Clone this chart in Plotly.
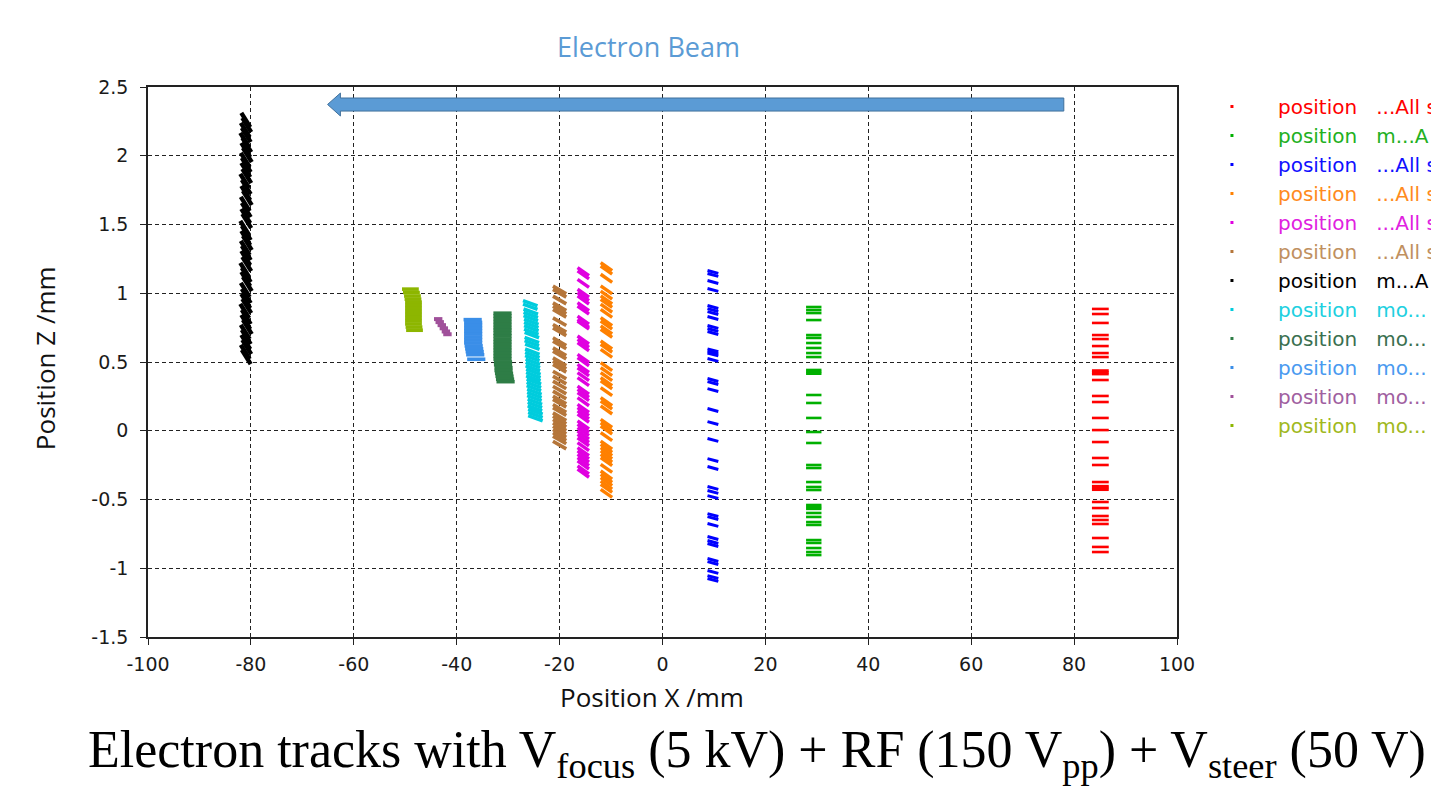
import plotly.graph_objects as go

# ---------------- data ----------------
legend_names = [
    "position   ...All s", "position   m...A", "position   ...All s",
    "position   ...All s", "position   ...All s", "position   ...All s",
    "position   m...A", "position   mo...", "position   mo...",
    "position   mo...", "position   mo...", "position   mo...",
]
colors = ["#FF0000", "#00B000", "#0000FF", "#FF8000", "#E000E0", "#B5763A",
          "#000000", "#00CCDD", "#2E7D46", "#3A8EE8", "#A0509A", "#8DB600"]
legend_text_colors = ["#FF0000", "#22B022", "#1010FF", "#FF8A20", "#E020E0", "#C09060",
                      "#000000", "#20D0E0", "#3A7050", "#4A9AF0", "#A060A0", "#A0B820"]

# red track
x_red = [85.1]
z_red = [0.886, 0.849, 0.784, 0.696, 0.667, 0.616, 0.565, 0.536, 0.438, 0.425, 0.412,
         0.369, 0.253, 0.209, 0.093, 0.005, -0.082, -0.198, -0.249, -0.373, -0.403,
         -0.416, -0.429, -0.518, -0.562, -0.620, -0.649, -0.678, -0.780, -0.845, -0.882]
# green track
x_green = [29.4]
z_green = [0.900, 0.878, 0.856, 0.805, 0.696, 0.675, 0.638, 0.602, 0.565, 0.536, 0.442,
           0.428, 0.415, 0.260, 0.202, 0.093, -0.009, -0.089, -0.249, -0.271, -0.373,
           -0.409, -0.431, -0.540, -0.555, -0.568, -0.598, -0.627, -0.664, -0.685,
           -0.795, -0.816, -0.853, -0.882, -0.904]
# blue track
x_blue = [9.8]
z_blue = [1.155, 1.133, 1.082, 1.024, 0.900, 0.878, 0.856, 0.820, 0.755, 0.733, 0.711,
          0.585, 0.570, 0.555, 0.515, 0.369, 0.347, 0.296, 0.151, 0.056, -0.067, -0.213,
          -0.271, -0.416, -0.445, -0.482, -0.613, -0.635, -0.685, -0.780, -0.809,
          -0.831, -0.940, -0.962, -1.027, -1.064, -1.085]
# orange track
x_orange = [-10.9]
z_orange = [1.193, 1.169, 1.109, 1.024, 0.987, 0.951, 0.927, 0.891, 0.854, 0.793, 0.769,
            0.733, 0.709, 0.624, 0.600, 0.563, 0.466, 0.430, 0.393, 0.357, 0.333, 0.284,
            0.211, 0.187, 0.151, 0.054, 0.029, 0.005, -0.043, -0.104, -0.128, -0.152,
            -0.176, -0.200, -0.225, -0.273, -0.322, -0.346, -0.370, -0.395, -0.419,
            -0.455]
# magenta track
x_magenta = [-15.4]
z_magenta = [1.157, 1.133, 1.072, 1.000, 0.975, 0.951, 0.902, 0.878, 0.805, 0.781, 0.769,
             0.660, 0.636, 0.611, 0.527, 0.502, 0.454, 0.429, 0.393, 0.357, 0.296, 0.272,
             0.248, 0.211, 0.163, 0.139, 0.115, 0.091, 0.042, 0.018, -0.007, -0.031,
             -0.055, -0.080, -0.116, -0.152, -0.176, -0.200, -0.225, -0.249, -0.285,
             -0.309]
# brown track
x_brown = [-20.0]
z_brown = [1.024, 1.000, 0.951, 0.902, 0.878, 0.854, 0.793, 0.745, 0.720, 0.648, 0.624,
           0.575, 0.551, 0.502, 0.478, 0.454, 0.405, 0.369, 0.333, 0.296, 0.260, 0.224,
           0.200, 0.163, 0.139, 0.102, 0.078, 0.054, 0.029, 0.005, -0.019, -0.043,
           -0.067, -0.104]
# black track
x_black = [-81.0, -80.8, -81.1, -80.9, -81.2, -80.8, -81.0, -80.7, -81.1, -80.9, -81.0,
           -80.8, -81.2, -80.9, -81.0, -80.7, -81.1, -80.9, -81.0, -80.8, -81.2, -80.9,
           -81.0, -80.7, -81.1, -80.9, -81.0, -80.8, -81.2, -80.9, -81.0, -80.7, -81.1,
           -80.9, -81.0, -80.8, -81.2, -80.9, -81.0, -80.7, -81.1, -80.9, -81.0, -80.8,
           -81.1, -80.9]
z_black = [2.260, 2.224, 2.187, 2.151, 2.115, 2.078, 2.042, 2.005, 1.969, 1.933, 1.896,
           1.853, 1.816, 1.773, 1.729, 1.693, 1.649, 1.605, 1.562, 1.525, 1.475, 1.438,
           1.402, 1.365, 1.329, 1.293, 1.256, 1.213, 1.169, 1.133, 1.104, 1.067, 1.024,
           0.980, 0.944, 0.907, 0.871, 0.827, 0.791, 0.755, 0.718, 0.682, 0.645, 0.609,
           0.573, 0.536]
# cyan track
x_cyan = [-25.7, -25.7, -25.6, -25.6, -25.6, -25.5, -25.5, -25.5, -25.5, -25.4, -25.4,
          -25.4, -25.3, -25.3, -25.3, -25.3, -25.2, -25.2, -25.2, -25.1, -25.1, -25.1,
          -25.0, -25.0, -25.0, -24.9, -24.9, -24.9, -24.8, -24.8, -24.8, -24.7, -24.7,
          -24.7]
z_cyan = [0.927, 0.902, 0.866, 0.842, 0.818, 0.793, 0.769, 0.745, 0.720, 0.696, 0.660,
          0.636, 0.611, 0.575, 0.551, 0.527, 0.502, 0.478, 0.454, 0.429, 0.405, 0.381,
          0.357, 0.333, 0.309, 0.284, 0.260, 0.236, 0.211, 0.187, 0.163, 0.139, 0.115,
          0.091]
# dark green track
x_dgreen = [-31.1, -31.1, -31.1, -31.1, -31.1, -31.1, -31.1, -31.1, -31.1, -31.1, -31.1,
            -31.1, -31.1, -31.1, -31.1, -31.1, -31.1, -31.0, -31.0, -30.9, -30.9, -30.8,
            -30.7, -30.6, -30.5]
z_dgreen = [0.855, 0.835, 0.815, 0.793, 0.772, 0.750, 0.731, 0.709, 0.690, 0.668, 0.647,
            0.627, 0.605, 0.585, 0.563, 0.542, 0.521, 0.500, 0.480, 0.459, 0.438, 0.417,
            0.396, 0.375, 0.357]
# light blue track
x_lblue = [-36.9, -36.8, -36.8, -36.8, -36.8, -36.8, -36.8, -36.8, -36.8, -36.7, -36.6,
           -36.5, -36.4, -36.2]
z_lblue = [0.808, 0.788, 0.766, 0.745, 0.724, 0.703, 0.681, 0.660, 0.639, 0.617, 0.596,
           0.575, 0.553, 0.520]
# purple track
x_purple = [-43.6, -43.3, -42.9, -42.5, -42.1, -41.8]
z_purple = [0.812, 0.790, 0.768, 0.745, 0.722, 0.702]
# olive track
x_olive = [-49.0, -48.8, -48.6, -48.5, -48.4, -48.4, -48.4, -48.4, -48.4, -48.4, -48.4,
           -48.4, -48.3, -48.2]
z_olive = [1.030, 1.005, 0.980, 0.957, 0.935, 0.912, 0.890, 0.867, 0.845, 0.822, 0.800,
           0.777, 0.754, 0.731]

# axis ticks
x_tickvals = [-100, -80, -60, -40, -20, 0, 20, 40, 60, 80, 100]
x_ticktext = ["-100", "-80", "-60", "-40", "-20", "0", "20", "40", "60", "80", "100"]
y_tickvals = [-1.5, -1, -0.5, 0, 0.5, 1, 1.5, 2, 2.5]
y_ticktext = ["-1.5", "-1", "-0.5", "0", "0.5", "1", "1.5", "2", "2.5"]

# beam arrow (annotation geometry, data units)
ARROW_TAIL_X, ARROW_HEAD_X, ARROW_TIP_X = 78.0, -62.6, -65.1
ARROW_SHAFT_TOP, ARROW_SHAFT_BOT = 2.42, 2.325
ARROW_HEAD_TOP, ARROW_HEAD_BOT, ARROW_TIP_Y = 2.456, 2.289, 2.373

# ---------------- figure ----------------
series = [
    (x_red, z_red, dict(angle=0, size=12, width=2.6)),
    (x_green, z_green, dict(angle=0, size=11, width=2.6)),
    (x_blue, z_blue, dict(angle=15, size=8, width=3.0)),
    (x_orange, z_orange, dict(angle=35, size=10, width=3.4)),
    (x_magenta, z_magenta, dict(angle=35, size=10, width=3.4)),
    (x_brown, z_brown, dict(angle=30, size=11, width=3.6)),
    (x_black, z_black, dict(angle=58, size=12, width=4.4)),
    (x_cyan, z_cyan, dict(angle=20, size=11, width=3.6)),
    (x_dgreen, z_dgreen, dict(angle=0, size=13, width=3.6)),
    (x_lblue, z_lblue, dict(angle=0, size=13, width=3.6)),
    (x_purple, z_purple, dict(angle=0, size=6, width=4)),
    (x_olive, z_olive, dict(angle=0, size=12, width=3.6)),
]

fig = go.Figure()
for i, (xs, zs, st) in enumerate(series):
    xx = xs if len(xs) == len(zs) else xs * len(zs)
    fig.add_trace(go.Scatter(
        x=xx, y=zs, mode="markers", showlegend=False, legendgroup=str(i),
        hoverinfo="x+y",
        marker=dict(symbol="line-ew", size=st["size"], angle=st["angle"],
                    color=colors[i], line=dict(color=colors[i], width=st["width"])),
    ))
for i, name in enumerate(legend_names):
    fig.add_trace(go.Scatter(
        x=[None], y=[None], mode="markers", legendgroup=str(i),
        name=f'<span style="color:{legend_text_colors[i]}">{name}</span>',
        marker=dict(symbol="square", size=3, color=colors[i], line=dict(width=0)),
    ))

fig.add_shape(
    type="path", xref="x", yref="y", layer="above",
    path=(f"M {ARROW_TAIL_X},{ARROW_SHAFT_TOP} L {ARROW_HEAD_X},{ARROW_SHAFT_TOP} "
          f"L {ARROW_HEAD_X},{ARROW_HEAD_TOP} L {ARROW_TIP_X},{ARROW_TIP_Y} "
          f"L {ARROW_HEAD_X},{ARROW_HEAD_BOT} L {ARROW_HEAD_X},{ARROW_SHAFT_BOT} "
          f"L {ARROW_TAIL_X},{ARROW_SHAFT_BOT} Z"),
    fillcolor="#5B9BD5", line=dict(color="#41719C", width=1),
)

fig.add_annotation(text="Electron Beam", xref="paper", yref="paper", x=0.486, y=1.0745,
                   xanchor="center", yanchor="middle", showarrow=False,
                   font=dict(family="Open Sans", size=27, color="#5B9BD5"))
fig.add_annotation(text="Position X /mm", xref="paper", yref="paper", x=0.4898, y=-0.109,
                   xanchor="center", yanchor="middle", showarrow=False,
                   font=dict(family="Open Sans", size=26, color="#111111"))
fig.add_annotation(text="Position Z /mm", xref="paper", yref="paper", x=-0.1001, y=0.507,
                   xanchor="center", yanchor="middle", showarrow=False, textangle=-90,
                   font=dict(family="Open Sans", size=26, color="#111111"))
fig.add_annotation(
    text="Electron tracks with V<sub>focus</sub> (5 kV) + RF (150 V<sub>pp</sub>) + V<sub>steer</sub> (50 V)",
    xref="paper", yref="paper", x=0.592, y=-0.212, xanchor="center", yanchor="middle",
    showarrow=False, font=dict(family="Liberation Serif", size=52, color="#000000"))

axis_common = dict(
    showgrid=True, gridcolor="#222222", gridwidth=1, griddash="4px,3px",
    showline=True, mirror=True, linecolor="#222222", linewidth=1.5,
    ticks="outside", ticklen=6, tickcolor="#222222", zeroline=False,
    tickfont=dict(family="DejaVu Sans", size=19, color="#1a1a1a"),
)
fig.update_xaxes(range=[-100, 100], tickvals=x_tickvals, ticktext=x_ticktext,
                 ticklabelstandoff=3, **axis_common)
fig.update_yaxes(range=[-1.5, 2.5], tickvals=y_tickvals, ticktext=y_ticktext,
                 ticklabelstandoff=8, **axis_common)

fig.update_layout(
    width=1431, height=783,
    margin=dict(l=140, r=262, t=79, b=154, autoexpand=False),
    paper_bgcolor="white", plot_bgcolor="white",
    showlegend=True,
    legend=dict(x=1.0087, y=1.0, xanchor="left", yanchor="top", itemwidth=82,
                bgcolor="rgba(0,0,0,0)", borderwidth=0, tracegroupgap=0,
                font=dict(family="DejaVu Sans", size=20, color="#333333")),
)

fig.write_html("out.html")
